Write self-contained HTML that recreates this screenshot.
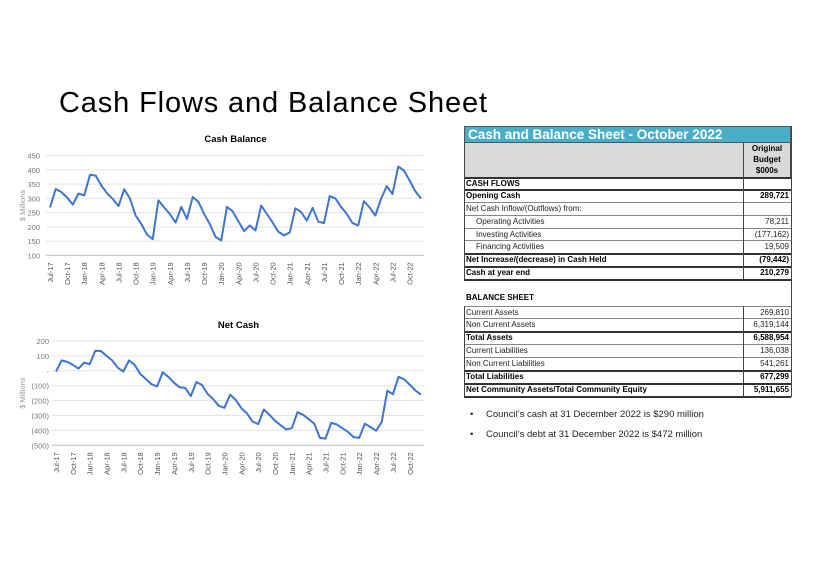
<!DOCTYPE html>
<html><head><meta charset="utf-8">
<style>
body{margin:0;background:#fff;font-family:"Liberation Sans",Arial,sans-serif;}
#page{position:relative;width:821px;height:580px;overflow:hidden;background:#fff;}
.t{position:absolute;font-size:8px;color:#222;white-space:nowrap;line-height:12px;}
.b{font-weight:bold;color:#000;}
.r{text-align:right;}
.hl{position:absolute;height:0;border-top:1px solid #444;}
.vl{position:absolute;width:0;border-left:1px solid #444;}
</style></head>
<body>
<div id="page">
<svg width="821" height="580" style="position:absolute;left:0;top:0">
<text x="59" y="112" font-size="29" font-family="Liberation Sans, Arial, sans-serif" textLength="428" fill="#000">Cash Flows and Balance Sheet</text>
<g id="c1"></g>
<g id="c2"></g>
</svg>

<div style="position:absolute;left:464px;top:126px;width:327px;height:17px;background:#4aaec8;border:1px solid #555;box-sizing:border-box;color:#fff;font-weight:bold;font-size:13.5px;line-height:15px;padding-left:3px;">Cash and Balance Sheet - October 2022</div>
<div style="position:absolute;left:464px;top:143px;width:327px;height:34px;background:#d9d9d9;border-left:1px solid #444;border-right:1px solid #444;box-sizing:border-box;"></div>
<div class="t b" style="left:743px;top:143px;width:48px;text-align:center;line-height:11px;">Original<br>Budget<br>$000s</div>
<div id="tbl"></div>

<div class="t" style="left:470px;top:409px;font-size:9.5px;">•<span style="position:absolute;left:16px;">Council’s cash at 31 December 2022 is $290 million</span></div>
<div class="t" style="left:470px;top:429px;font-size:9.5px;">•<span style="position:absolute;left:16px;">Council’s debt at 31 December 2022 is $472 million</span></div>
</div>

<script>
const months = [];
const mn=['Jan','Feb','Mar','Apr','May','Jun','Jul','Aug','Sep','Oct','Nov','Dec'];
for(let y=17;y<=22;y++)for(let m=0;m<12;m++){if(y===17&&m<6)continue;months.push(mn[m]+'-'+y);}
const cashBalance=[268,333,322,303,278,317,310,383,380,345,318,298,273,332,300,240,210,173,157,293,268,245,215,270,228,305,288,245,210,165,152,270,255,220,185,205,187,275,245,215,183,170,180,265,252,222,267,218,213,308,300,270,245,213,205,290,268,240,298,343,315,412,398,363,325,300];
const netCash=[-5,70,60,40,15,55,45,135,133,100,70,20,-5,70,40,-20,-55,-90,-105,-10,-40,-80,-110,-115,-170,-75,-95,-155,-190,-235,-248,-160,-195,-250,-285,-340,-358,-260,-295,-335,-365,-393,-385,-278,-295,-325,-355,-450,-455,-350,-360,-385,-410,-445,-450,-355,-378,-402,-345,-133,-158,-40,-58,-93,-132,-160];
const ticks1=[100,150,200,250,300,350,400,450];
const tickLabels1=['100','150','200','250','300','350','400','450'];
const ticks2=[-500,-400,-300,-200,-100,0,100,200];
const tickLabels2=['(500)','(400)','(300)','(200)','(100)','-','100','200'];
const NS='http://www.w3.org/2000/svg';
function mk(tag,attrs,parent){const e=document.createElementNS(NS,tag);for(const k in attrs)e.setAttribute(k,attrs[k]);parent.appendChild(e);return e;}
function chart(g,title,titleY,vals,ticks,labels,x0,x1,yTop,yBot,vmin,vmax,labelX,gridX0){
  const xs=i=>x0+(x1-x0)*i/(vals.length-1);
  const ys=v=>yBot-(v-vmin)/(vmax-vmin)*(yBot-yTop);
  const tt=mk('text',{x:(x0+x1)/2,y:titleY,'text-anchor':'middle','font-size':9.5,'font-weight':'bold',fill:'#000'},g);
  tt.textContent=title;
  
  
  ticks.forEach((t,i)=>{
    const l=mk('line',{x1:gridX0,x2:x1+3,y1:ys(t),y2:ys(t),stroke:i===0?'#bbb':'#e3e3e3','stroke-width':1},g);
    
    
    const tx=mk('text',{x:labelX,y:ys(t)+3,'text-anchor':'end','font-size':7.5,fill:'#777'},g);
    tx.textContent=labels[i];
    
    
  });
  const yt=mk('text',{x:0,y:0,'text-anchor':'middle','font-size':7.5,fill:'#999',transform:`translate(25,${(yTop+yBot)/2}) rotate(-90)`},g);
  yt.textContent='$ Millions';
  
  
  for(let i=0;i<vals.length;i+=3){
    const x=xs(i);
    const tx=mk('text',{x:0,y:0,'text-anchor':'end','font-size':7.5,fill:'#555',transform:`translate(${x+3},${yBot+7}) rotate(-90)`},g);
    tx.textContent=months[i];
    
    
  }
  const p=mk('polyline',{points:vals.map((v,i)=>xs(i).toFixed(1)+','+ys(v).toFixed(1)).join(' '),fill:'none',stroke:'#3f74d0','stroke-width':2,'stroke-linejoin':'round'},g);
  
  
}
chart(document.getElementById('c1'),'Cash Balance',142,cashBalance,ticks1,tickLabels1,50,421,155.7,255.3,100,450,40,46);
chart(document.getElementById('c2'),'Net Cash',328,netCash,ticks2,tickLabels2,56,421,341,445.3,-500,200,49,52);

// table rows
const rowLabels=['CASH FLOWS','Opening Cash','Net Cash Inflow/(Outflows) from:','Operating Activities','Investing Activities','Financing Activities','Net Increase/(decrease) in Cash Held','Cash at year end','Current Assets','Non Current Assets','Total Assets','Current Liabilities','Non Current Liabilities','Total Liabilities','Net Community Assets/Total Community Equity'];
const rowValues=['','289,721','','78,211','(177,162)','19,509','(79,442)','210,279','269,810','6,319,144','6,588,954','136,038','541,261','677,299','5,911,655'];
const rowTop=[177,189,202,215,228,240,253,266,306,318,331,344,357,370,383];
const rowBold=[1,1,0,0,0,0,1,1,0,0,1,0,0,1,1];
const rowIndent=[0,0,0,1,1,1,0,0,0,0,0,0,0,0,0];
const tbl=document.getElementById('tbl');
const page=document.getElementById('page');
function div(cls,style,txt,name){const d=document.createElement('div');d.className=cls;d.setAttribute('style',style);if(txt)d.textContent=txt;page.appendChild(d);return d;}
rowLabels.forEach((lab,i)=>{
  const top=rowTop[i];
  div('t'+(rowBold[i]?' b':''),`left:${466+(rowIndent[i]?10:0)}px;top:${top+1}px;`,lab,'row-label');
  if(rowValues[i])div('t r'+(rowBold[i]?' b':''),`left:743px;top:${top+1}px;width:46px;`,rowValues[i],'row-value');
  const thick=rowBold[i]?'2px':'1px';
  div('hl',`left:464px;top:${top}px;width:327px;border-top-width:${thick};border-top-color:${rowBold[i]?'#333':'#888'}`,'','row-border');
});
div('hl','left:464px;top:279px;width:327px;border-top:2px solid #333','','section-bottom-border');
div('hl','left:464px;top:396px;width:327px;border-top:2px solid #333','','table-bottom-border');
div('vl','left:464px;top:143px;height:137px','','left-border');
div('vl','left:464px;top:306px;height:91px','','left-border-2');
div('vl','left:743px;top:143px;height:137px','','column-divider');
div('vl','left:743px;top:306px;height:91px','','column-divider-2');
div('vl','left:791px;top:126px;height:271px','','right-border');
div('t b','left:466px;top:292px;','BALANCE SHEET','balance-sheet-heading');
</script>
</body></html>
